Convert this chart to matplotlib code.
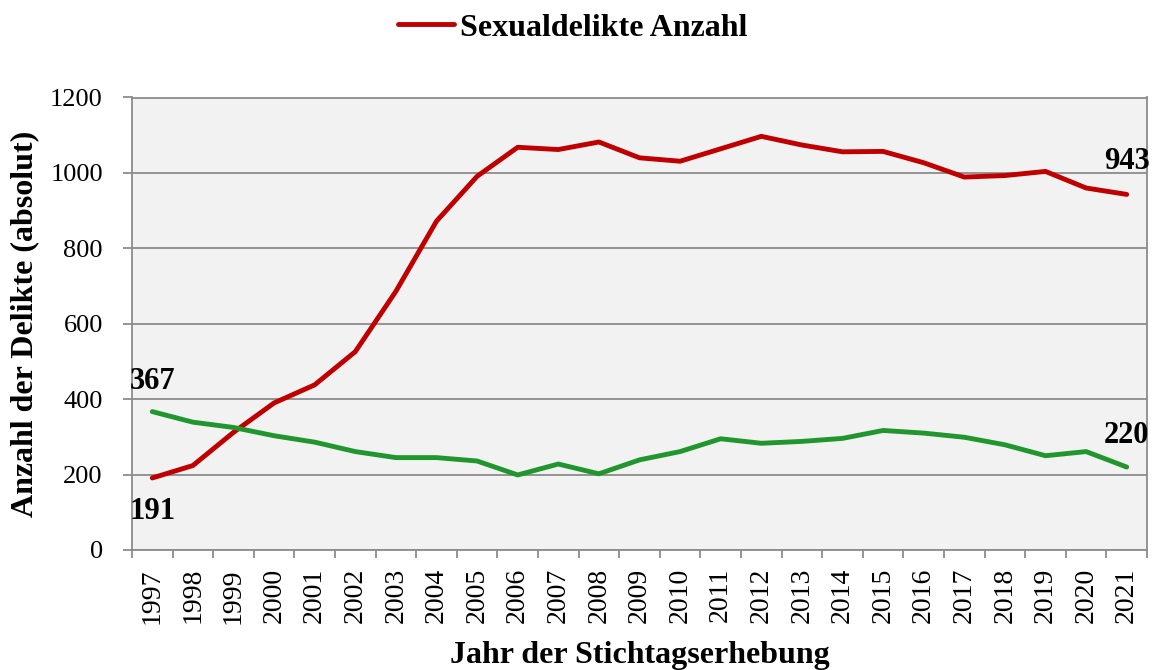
import matplotlib
matplotlib.use("Agg")
import matplotlib.pyplot as plt
import numpy as np

years = [str(y) for y in range(1997, 2022)]
sexualdelikte = [191, 224, 312, 390, 438, 526, 686, 872, 991, 1068, 1062, 1082, 1040,
                 1031, 1064, 1097, 1074, 1056, 1057, 1027, 989, 993, 1004, 960, 943]
zweite_reihe = [367, 339, 325, 303, 286, 261, 245, 245, 236, 199, 228, 202, 239,
                261, 295, 283, 288, 296, 317, 310, 299, 279, 250, 261, 220]

plt.rcParams['font.family'] = ['Liberation Serif', 'DejaVu Serif']

fig = plt.figure(figsize=(11.54, 6.70), dpi=100)
ax = fig.add_axes([132/1154, 1-550/670, (1147-132)/1154, (550-97.5)/670])
ax.set_facecolor('#f2f2f2')

x = np.arange(len(years))
red = '#c00000'
green = '#21962f'
ax.plot(x, sexualdelikte, color=red, lw=3.5, solid_capstyle='round', label='Sexualdelikte Anzahl', zorder=3)
ax.plot(x, zweite_reihe, color=green, lw=3.5, solid_capstyle='round', zorder=3)

ax.set_xlim(-0.5, len(years)-0.5)
ax.set_ylim(0, 1200)
ax.set_yticks(np.arange(0, 1201, 200))
ax.yaxis.grid(True, color='#8c8c8c', lw=1.3)
ax.set_axisbelow(True)

ax.set_xticks(x)
ax.set_xticklabels(years, rotation=90, fontsize=20)
ax.set_xticks(np.arange(-0.5, len(years), 1), minor=True)
ax.tick_params(axis='x', which='major', length=0, pad=13)
ax.tick_params(axis='x', which='minor', length=6, width=1.3, color='#8c8c8c')
ax.tick_params(axis='y', length=6.5, width=1.3, color='#8c8c8c', labelsize=19, pad=14.5)
for s in ax.spines.values():
    s.set_color('#8c8c8c')
    s.set_linewidth(1.3)

ax.set_ylabel('Anzahl der Delikte (absolut)', fontsize=23, fontweight='bold', va='center')
ax.yaxis.set_label_coords((25-132)/1015, (550-324)/452.5)
ax.set_xlabel('Jahr der Stichtagserhebung', fontsize=23, fontweight='bold', va='center')
ax.xaxis.set_label_coords(0.5, (550-656)/452.5)

lab = dict(fontsize=22, fontweight='bold', clip_on=False)
ax.annotate(str(zweite_reihe[0]), (x[0], zweite_reihe[0]), xytext=(0, 11.5), textcoords='offset points',
            ha='center', va='bottom', **lab)
ax.annotate(str(sexualdelikte[0]), (x[0], sexualdelikte[0]), xytext=(0, -13.5), textcoords='offset points',
            ha='center', va='top', **lab)
ax.annotate(str(sexualdelikte[-1]), (x[-1], sexualdelikte[-1]), xytext=(0, 13), textcoords='offset points',
            ha='center', va='bottom', **lab)
ax.annotate(str(zweite_reihe[-1]), (x[-1], zweite_reihe[-1]), xytext=(0, 12.5), textcoords='offset points',
            ha='center', va='bottom', **lab)

fig.legend(loc='center', bbox_to_anchor=(573/1154, 1-28/670), frameon=False,
           prop={'size': 23, 'weight': 'bold'}, handlelength=1.75, handletextpad=0.2)

fig.savefig('out.png', dpi=100)
